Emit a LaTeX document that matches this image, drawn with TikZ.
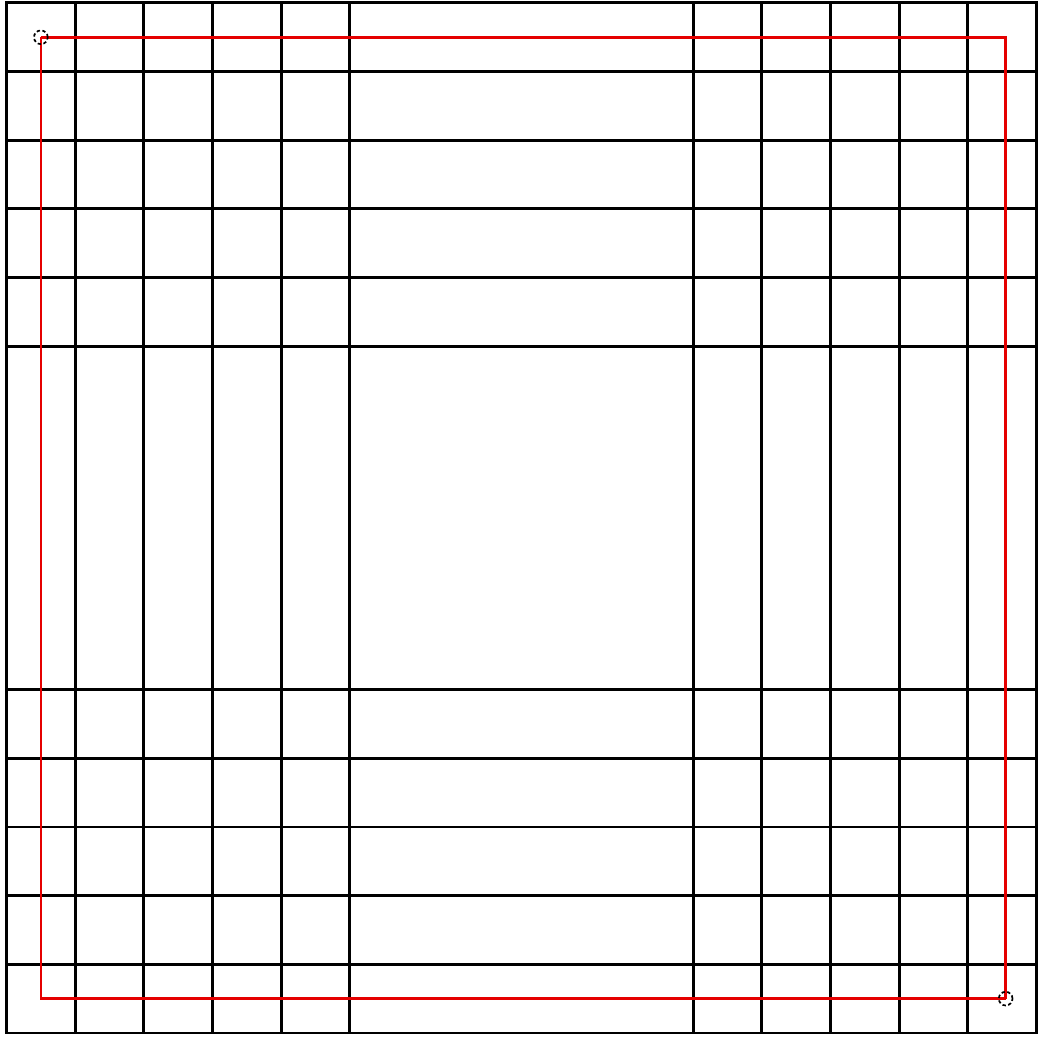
\documentclass[tikz,border=0pt]{standalone}
\usepackage{amsmath}
\usepackage{amssymb}

\begin{document}
\begin{tikzpicture}[line width=1.2pt]
			\useasboundingbox (-0.095,-0.058) rectangle (15.065,15.043);
			\foreach \x in {0,1,2,3,4,5,10,11,12,13,14,15}
				\draw[line cap=rect] (\x, 0) -- (\x, 15);
			\foreach \y in {0,1,2,3,4,5,10,11,12,13,14,15}
				\draw[line cap=rect] (0, \y) -- (15, \y);
			\coordinate (start) at (0.5, 14.5);
			\coordinate (end) at (14.55, 0.5);
			\draw[color=red!90!black, line width=1.1pt] (start) -| (end);
			\draw[color=red!90!black, line width=1.1pt] (start) |- (end);
			\draw[dash pattern=on 1.4pt off 1pt, line width=0.7pt] (start) circle (0.1);
			\draw[dash pattern=on 1.4pt off 1pt, line width=0.7pt] (end) circle (0.1);
		\end{tikzpicture}
\end{document}
